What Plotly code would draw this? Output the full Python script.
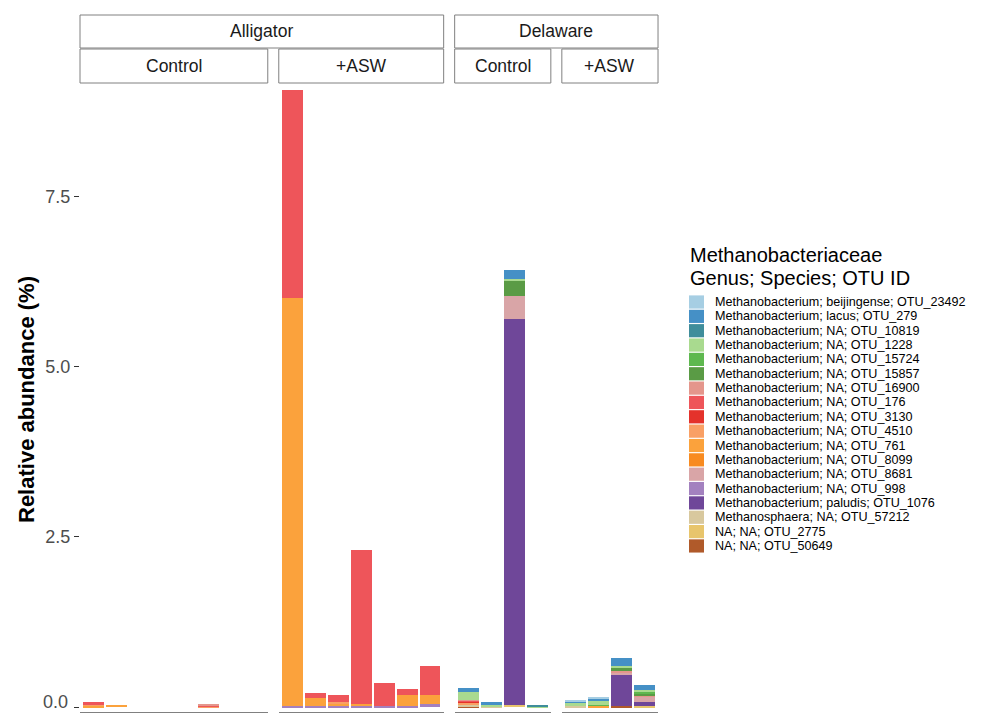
import plotly.graph_objects as go

# ---- samples (grouped by site and treatment) ----
samples = ["AC1", "AC2", "AC3", "AC4", "AC5", "AC6", "AC7", "AC8",
           "AA1", "AA2", "AA3", "AA4", "AA5", "AA6", "AA7",
           "DC1", "DC2", "DC3", "DC4",
           "DA1", "DA2", "DA3", "DA4"]
site = ["Alligator"] * 15 + ["Delaware"] * 8
treatment = (["Control"] * 8 + ["+ASW"] * 7 + ["Control"] * 4 + ["+ASW"] * 4)

# ---- relative abundance (%) per OTU, in sample order above ----
otu_23492 = [0, 0, 0, 0, 0, 0, 0, 0,  0, 0, 0, 0, 0, 0, 0,  0, 0, 0, 0,  0.02, 0.015, 0, 0]
otu_279 = [0, 0, 0, 0, 0, 0, 0, 0,  0, 0, 0, 0, 0, 0, 0,  0.06, 0.045, 0.13, 0,  0.01, 0.025, 0.12, 0.08]
otu_10819 = [0, 0, 0, 0, 0, 0, 0, 0,  0, 0, 0, 0, 0, 0, 0,  0, 0, 0, 0.015,  0, 0, 0, 0]
otu_1228 = [0, 0, 0, 0, 0, 0, 0, 0,  0, 0, 0, 0, 0, 0, 0,  0.12, 0.02, 0.04, 0.015,  0.05, 0.07, 0.025, 0.035]
otu_15724 = [0, 0, 0, 0, 0, 0, 0, 0,  0, 0, 0, 0, 0, 0, 0,  0, 0, 0, 0,  0, 0.01, 0, 0.02]
otu_15857 = [0, 0, 0, 0, 0, 0, 0, 0,  0, 0, 0, 0, 0, 0, 0,  0, 0, 0.21, 0,  0, 0, 0.05, 0.025]
otu_16900 = [0, 0, 0, 0, 0, 0.015, 0, 0,  0, 0, 0, 0, 0, 0, 0,  0.015, 0, 0, 0,  0, 0, 0.025, 0.02]
otu_176 = [0.035, 0, 0, 0, 0, 0.01, 0, 0,  3.06, 0.07, 0.11, 2.26, 0.34, 0.08, 0.43,  0.015, 0, 0, 0,  0, 0, 0, 0]
otu_3130 = [0, 0, 0, 0, 0, 0, 0, 0,  0, 0, 0, 0, 0, 0, 0,  0.015, 0, 0, 0,  0, 0, 0, 0]
otu_4510 = [0.01, 0, 0, 0, 0, 0.015, 0, 0,  0, 0, 0.02, 0, 0, 0, 0,  0.02, 0, 0, 0,  0, 0, 0, 0]
otu_761 = [0.025, 0.03, 0, 0, 0, 0, 0, 0,  5.98, 0.13, 0.04, 0.03, 0, 0.17, 0.13,  0, 0, 0, 0,  0, 0.02, 0, 0]
otu_8099 = [0, 0, 0, 0, 0, 0, 0, 0,  0, 0, 0, 0, 0, 0, 0,  0.01, 0, 0, 0,  0, 0, 0, 0]
otu_8681 = [0, 0, 0, 0, 0, 0, 0, 0,  0, 0, 0, 0, 0, 0, 0,  0, 0, 0.34, 0,  0, 0, 0.03, 0.07]
otu_998 = [0, 0, 0, 0, 0, 0, 0, 0,  0.02, 0.01, 0.01, 0.02, 0.01, 0.01, 0.04,  0, 0, 0, 0,  0, 0, 0, 0]
otu_1076 = [0, 0, 0, 0, 0, 0, 0, 0,  0, 0, 0, 0, 0, 0, 0,  0, 0, 5.67, 0,  0, 0, 0.465, 0.07]
otu_57212 = [0, 0, 0, 0, 0, 0, 0, 0,  0, 0, 0, 0, 0, 0, 0,  0.02, 0.015, 0, 0,  0.02, 0, 0, 0]
otu_2775 = [0, 0, 0, 0, 0, 0, 0, 0,  0, 0, 0, 0, 0, 0, 0,  0, 0, 0.03, 0,  0, 0, 0, 0.01]
otu_50649 = [0, 0, 0, 0, 0, 0, 0, 0,  0, 0, 0, 0, 0, 0, 0,  0.01, 0, 0, 0,  0, 0, 0.01, 0]

# ---- taxon labels and fill colours (legend order, top of stack first) ----
taxa = ["Methanobacterium; beijingense; OTU_23492",
        "Methanobacterium; lacus; OTU_279",
        "Methanobacterium; NA; OTU_10819",
        "Methanobacterium; NA; OTU_1228",
        "Methanobacterium; NA; OTU_15724",
        "Methanobacterium; NA; OTU_15857",
        "Methanobacterium; NA; OTU_16900",
        "Methanobacterium; NA; OTU_176",
        "Methanobacterium; NA; OTU_3130",
        "Methanobacterium; NA; OTU_4510",
        "Methanobacterium; NA; OTU_761",
        "Methanobacterium; NA; OTU_8099",
        "Methanobacterium; NA; OTU_8681",
        "Methanobacterium; NA; OTU_998",
        "Methanobacterium; paludis; OTU_1076",
        "Methanosphaera; NA; OTU_57212",
        "NA; NA; OTU_2775",
        "NA; NA; OTU_50649"]
taxa_values = [otu_23492, otu_279, otu_10819, otu_1228, otu_15724, otu_15857,
               otu_16900, otu_176, otu_3130, otu_4510, otu_761, otu_8099,
               otu_8681, otu_998, otu_1076, otu_57212, otu_2775, otu_50649]
taxa_colors = ["#A6CEE3", "#4590C6", "#3F8D9B", "#A9DA8F", "#5EB84F", "#5A9B45",
               "#E4968C", "#EE555A", "#E4322B", "#F9A065", "#FBA23C", "#F88B20",
               "#D9A5A7", "#A381BF", "#6F4799", "#D8C89E", "#E8C56C", "#B05A2A"]

panels = [("Alligator", "Control"), ("Alligator", "+ASW"),
          ("Delaware", "Control"), ("Delaware", "+ASW")]

# y-axis ticks
y_ticks = [0, 2.5, 5, 7.5]
y_tick_text = ["0.0", "2.5", "5.0", "7.5"]

W, H = 996, 713
FONT = "Liberation Sans, Arial, sans-serif"


def px(x):
    return x / W


def py(y):
    return 1 - y / H


# panel geometry (pixels)
slot = 22.9
gap = 11
left0 = 80
plot_top, plot_bottom = 84, 712
y_range = [-0.073, 9.15]

fig = go.Figure()

panel_edges = []
x_left = left0
for p, (s, t) in enumerate(panels):
    idx = [i for i in range(len(samples)) if site[i] == s and treatment[i] == t]
    n = len(idx)
    width_px = slot * (n + 0.2)
    panel_edges.append((x_left, x_left + width_px))
    xa = "x" if p == 0 else f"x{p + 1}"
    ya = "y" if p == 0 else f"y{p + 1}"
    # stacked bars: last legend entry sits at the bottom
    for k in reversed(range(len(taxa))):
        fig.add_trace(go.Bar(
            x=[samples[i] for i in idx],
            y=[taxa_values[k][i] for i in idx],
            name=taxa[k],
            marker=dict(color=taxa_colors[k], line=dict(width=0)),
            width=0.9,
            xaxis=xa, yaxis=ya,
            showlegend=False,
            hovertemplate="%{x}<br>" + taxa[k] + "<br>%{y:.3f}%<extra></extra>",
        ))
    ax_kw = dict(
        domain=[px(x_left), px(x_left + width_px)],
        anchor=ya,
        type="category",
        categoryorder="array",
        categoryarray=[samples[i] for i in idx],
        range=[-0.6, n - 0.4],
        showline=True, linecolor="#808080", linewidth=1.2,
        showticklabels=False, ticks="", showgrid=False, zeroline=False,
    )
    ay_kw = dict(
        domain=[py(plot_bottom), py(plot_top)],
        anchor=xa,
        range=y_range,
        showgrid=False, zeroline=False, showline=False,
    )
    if p == 0:
        # the bottom label sits on the page edge; it is drawn separately below
        ay_kw.update(
            tickvals=y_ticks,
            ticktext=[("" if v == 0 else lab) for v, lab in zip(y_ticks, y_tick_text)],
            ticks="outside", ticklen=5, tickwidth=1.2, tickcolor="#333333",
            tickfont=dict(size=18, color="#4D4D4D", family=FONT),
        )
    else:
        ay_kw.update(matches="y", showticklabels=False, ticks="")
    fig.update_layout(**{("xaxis" if p == 0 else f"xaxis{p + 1}"): ax_kw,
                         ("yaxis" if p == 0 else f"yaxis{p + 1}"): ay_kw})
    x_left += width_px + gap

shapes = []
annotations = []
strip_line = dict(color="#808080", width=1)

# "0.0" label, nudged up so it stays inside the page
y0_px = plot_bottom - (0 - y_range[0]) / (y_range[1] - y_range[0]) * (plot_bottom - plot_top)
annotations.append(dict(text=y_tick_text[0], xref="paper", yref="paper",
                        x=px(69), y=py(y0_px - 5), showarrow=False,
                        xanchor="right", yanchor="middle", borderpad=0,
                        font=dict(size=18, color="#4D4D4D")))

# site strips (spanning their treatment panels)
for s_name, cols in [("Alligator", [0, 1]), ("Delaware", [2, 3])]:
    x0 = panel_edges[cols[0]][0]
    x1 = panel_edges[cols[-1]][1]
    shapes.append(dict(type="rect", xref="paper", yref="paper",
                       x0=px(x0), x1=px(x1), y0=py(48), y1=py(15),
                       fillcolor="white", line=strip_line, layer="below"))
    annotations.append(dict(text=s_name, xref="paper", yref="paper",
                            x=px((x0 + x1) / 2), y=py(31.5), showarrow=False,
                            xanchor="center", yanchor="middle",
                            font=dict(size=17.5, color="#1A1A1A")))

# treatment strips
for p, (s, t) in enumerate(panels):
    x0, x1 = panel_edges[p]
    shapes.append(dict(type="rect", xref="paper", yref="paper",
                       x0=px(x0), x1=px(x1), y0=py(83), y1=py(49),
                       fillcolor="white", line=strip_line, layer="below"))
    annotations.append(dict(text=t, xref="paper", yref="paper",
                            x=px((x0 + x1) / 2), y=py(66), showarrow=False,
                            xanchor="center", yanchor="middle",
                            font=dict(size=17.5, color="#1A1A1A")))

# y-axis title
annotations.append(dict(text="<b>Relative abundance (%)</b>", xref="paper", yref="paper",
                        x=px(26), y=py(400), showarrow=False, textangle=-90,
                        xanchor="center", yanchor="middle",
                        font=dict(size=22, color="#000000")))

# legend: title and colour keys
leg_x = 688
annotations.append(dict(text="Methanobacteriaceae", xref="paper", yref="paper",
                        x=px(leg_x), y=py(255), showarrow=False,
                        xanchor="left", yanchor="middle",
                        font=dict(size=20, color="#000000")))
annotations.append(dict(text="Genus; Species; OTU ID", xref="paper", yref="paper",
                        x=px(leg_x), y=py(278), showarrow=False,
                        xanchor="left", yanchor="middle",
                        font=dict(size=20, color="#000000")))
pitch = 14.35
first_y = 302
for k, (lab, col) in enumerate(zip(taxa, taxa_colors)):
    cy = first_y + k * pitch
    shapes.append(dict(type="rect", xref="paper", yref="paper",
                       x0=px(leg_x + 1), x1=px(leg_x + 16),
                       y0=py(cy + 6.6), y1=py(cy - 6.6),
                       fillcolor=col, line=dict(width=0)))
    annotations.append(dict(text=lab, xref="paper", yref="paper",
                            x=px(leg_x + 25), y=py(cy), showarrow=False,
                            xanchor="left", yanchor="middle",
                            font=dict(size=12.6, color="#000000")))

fig.update_layout(
    width=W, height=H,
    margin=dict(l=0, r=0, t=0, b=0),
    paper_bgcolor="white", plot_bgcolor="white",
    barmode="stack", bargap=0,
    showlegend=False,
    font=dict(family=FONT),
    shapes=shapes,
    annotations=annotations,
)

fig.write_html("out.html")
